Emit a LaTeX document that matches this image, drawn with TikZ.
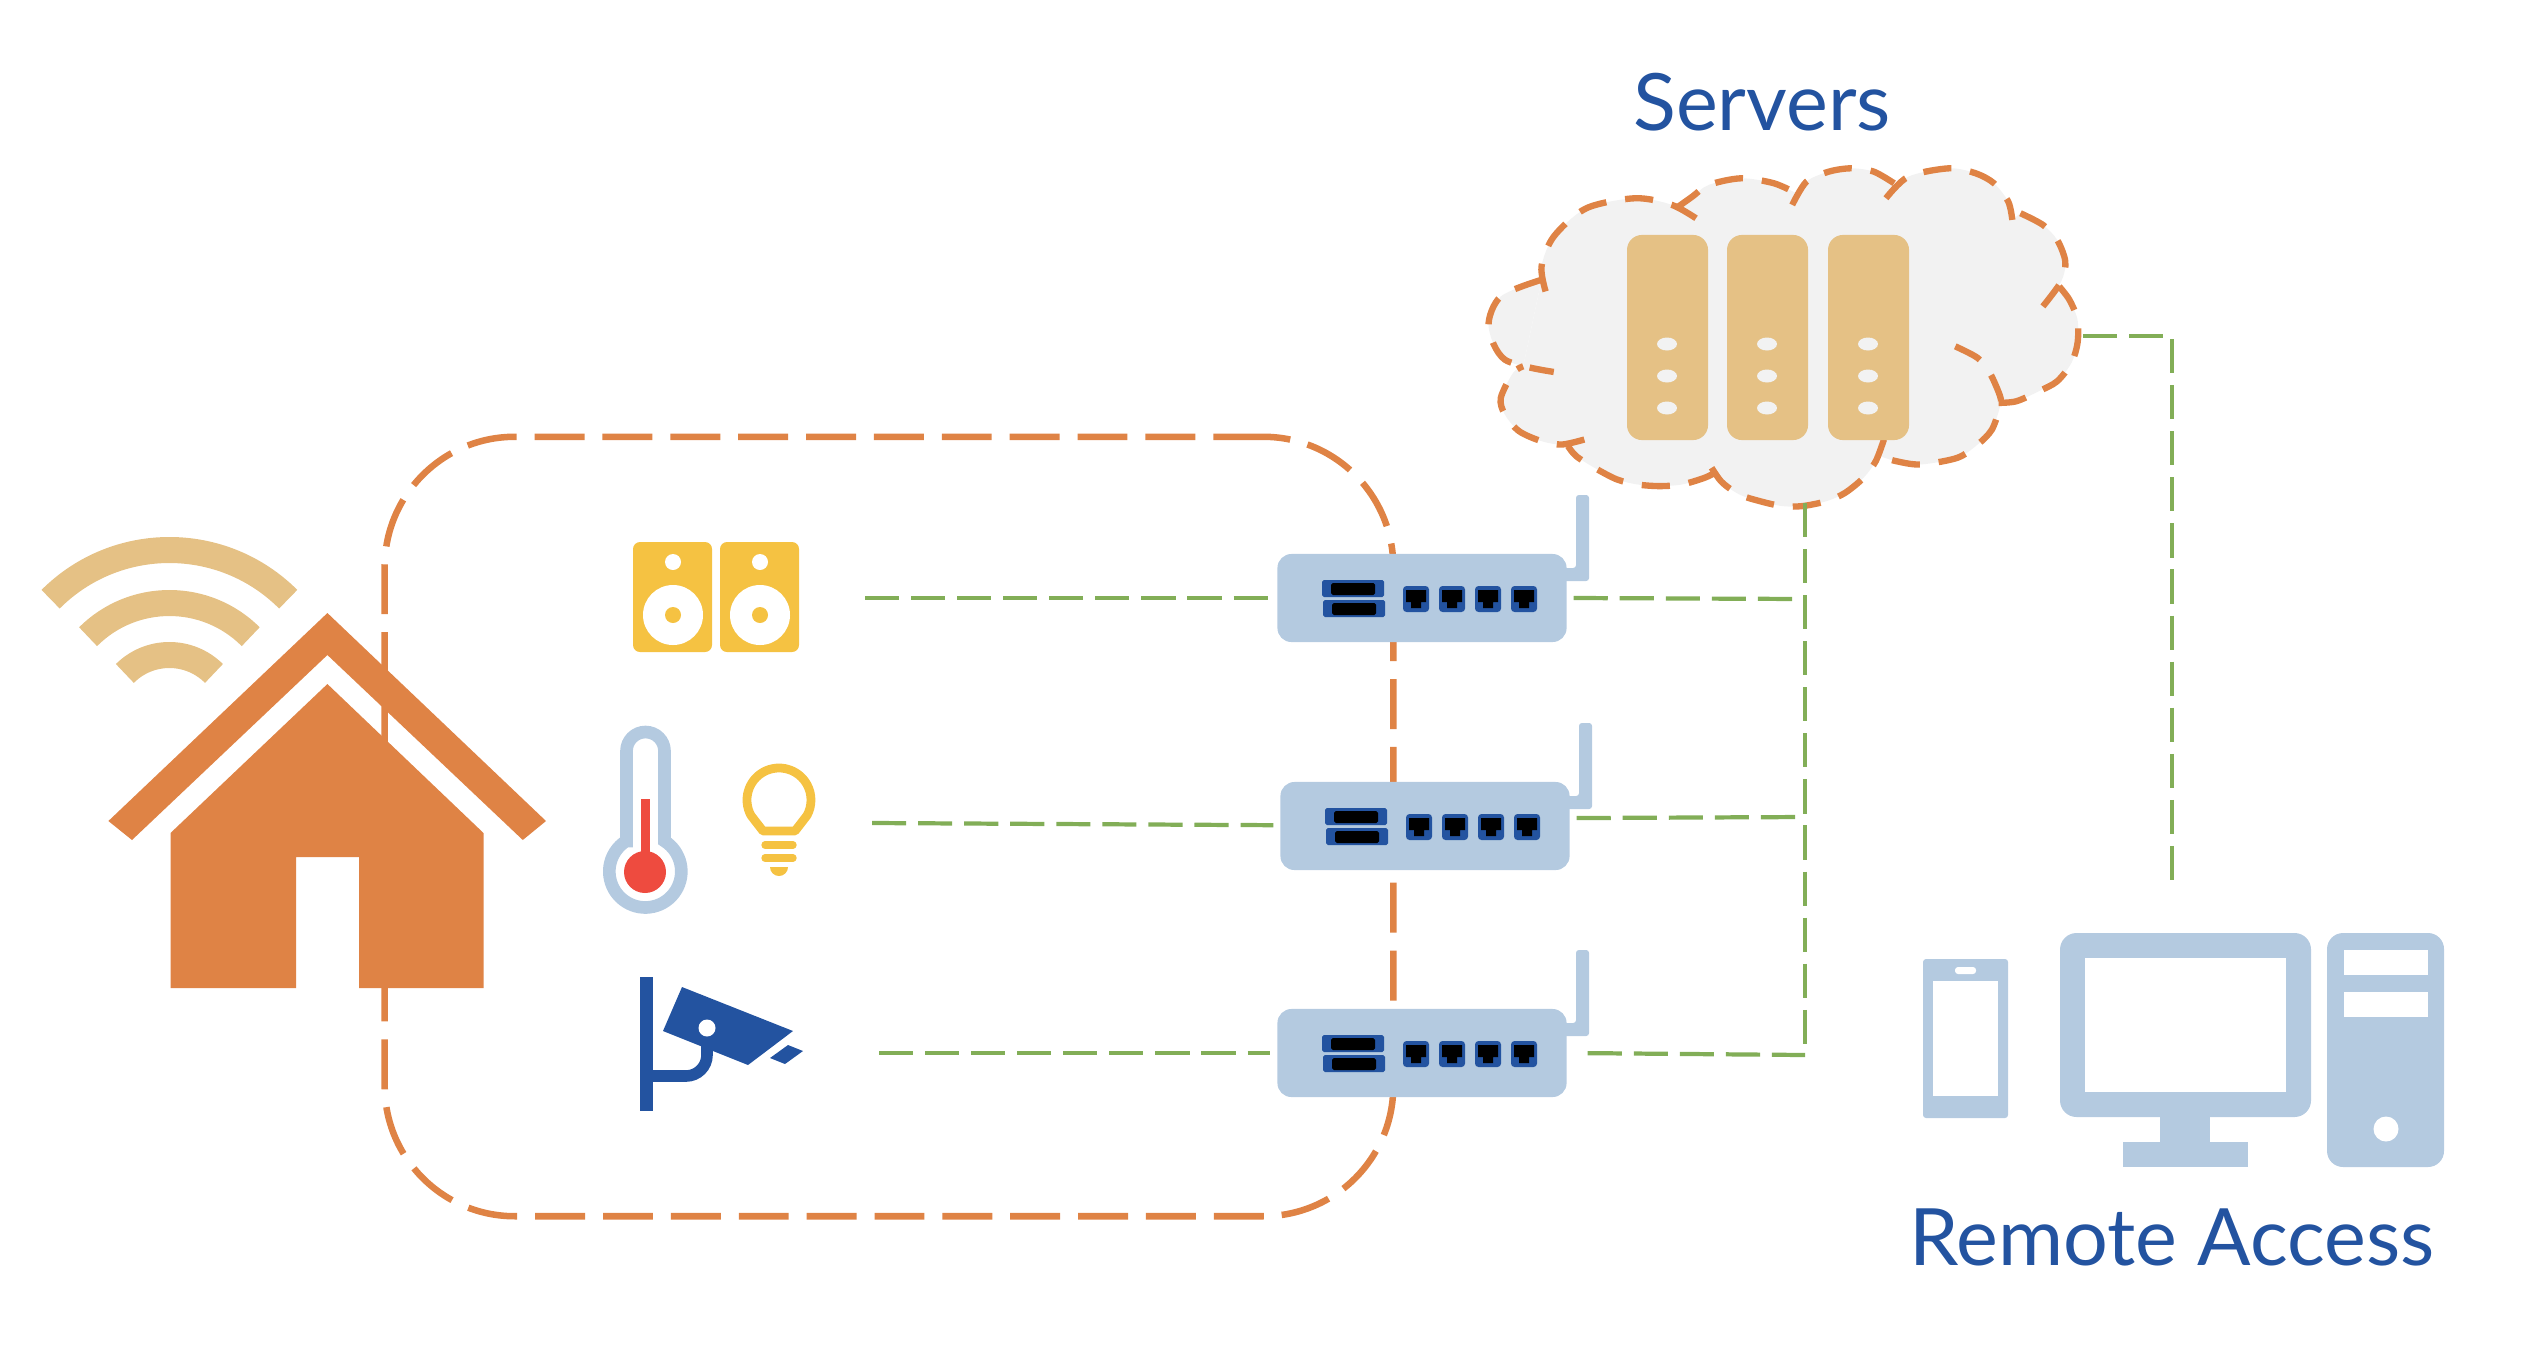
\documentclass[tikz,border=0pt]{standalone}
\usepackage{fontspec}
\setmainfont{Lato}
\definecolor{homeorange}{HTML}{DF8345}
\definecolor{beige}{HTML}{E5C185}
\definecolor{lightblue}{HTML}{B4CAE0}
\definecolor{darkblue}{HTML}{2353A0}
\definecolor{linkgreen}{HTML}{82AE57}
\definecolor{speakeryellow}{HTML}{F5C242}
\definecolor{thermored}{HTML}{EE4B3F}
\definecolor{cloudgrey}{HTML}{F2F2F2}
\tikzset{
  link/.style={draw=linkgreen, line width=1.2pt, dash pattern=on 9.7pt off 3.4pt},
  frame/.style={draw=homeorange, line width=1.85pt, dash pattern=on 14.2pt off 5.1pt, rounded corners=1.3cm, minimum width=10.08cm, minimum height=7.79cm},
  lobe/.style={draw=homeorange, line width=1.8pt, dash pattern=on 8pt off 5.4pt},
  routerbox/.style={fill=lightblue, rounded corners=0.14cm, minimum width=2.89cm, minimum height=0.88cm, outer sep=2pt},
  serverbox/.style={fill=beige, rounded corners=0.15cm, minimum width=0.81cm, minimum height=2.05cm},
  labeltext/.style={text=darkblue, font=\fontsize{22.5}{30}\selectfont},
  wave/.style={draw=beige, line width=7.4pt}
}
\newcommand{\slotjack}[2]{
  \fill [darkblue, rounded corners=0.5pt] (#1-9,#2-3) rectangle (#1+53,#2+14);
  \fill [black, rounded corners=0.5pt] (#1,#2) rectangle (#1+44,#2+12);
}
\newcommand{\portjack}[1]{
  \fill [darkblue, rounded corners=1pt] (#1,-12) rectangle (#1+26,14);
  \fill [black] (#1+3,-8) -- (#1+23,-8) -- (#1+23,4) -- (#1+18,4) -- (#1+18,10) -- (#1+8,10) -- (#1+8,4) -- (#1+3,4) -- cycle;
}
\newcommand{\routerunit}[3]{
  \begin{scope}[shift={(#1,#2)}]
  \fill [lightblue, rounded corners=0.8pt] (140,-30) -- (154,-30) -- (154,-103) -- (167,-103) -- (167,-17) -- (140,-17) -- cycle;
  \draw (0,0) node[routerbox] (#3) {};
  \slotjack{-91}{-15}
  \slotjack{-90}{5}
  \portjack{-19}
  \portjack{17}
  \portjack{53}
  \portjack{89}
  \end{scope}
}
\newcommand{\serverdots}[1]{
  \fill [cloudgrey] (#1,344) ellipse [x radius=10, y radius=6.5];
  \fill [cloudgrey] (#1,376) ellipse [x radius=10, y radius=6.5];
  \fill [cloudgrey] (#1,408) ellipse [x radius=10, y radius=6.5];
}
\newcommand{\speakerunit}[1]{
  \fill [speakeryellow, rounded corners=0.07cm] (#1-40,542) rectangle (#1+39,652);
  \fill [white] (#1,562) circle [radius=8];
  \fill [white] (#1,615) circle [radius=30];
  \fill [speakeryellow] (#1,615) circle [radius=8];
}
\def\lobeA{(200,420) (100,470) (70,560) (110,660) (230,697)}
\def\lobeB{(210,455) (200,380) (230,290) (310,205) (430,175) (520,195) (585,240)}
\def\lobeC{(530,205) (570,170) (610,135) (690,115) (770,130) (825,160)}
\def\lobeD{(815,195) (850,125) (905,95) (960,85) (1015,95) (1065,130)}
\def\lobeE{(1045,175) (1100,110) (1200,85) (1265,100) (1310,130) (1345,185) (1355,240)}
\def\lobeF{(1375,220) (1430,255) (1465,300) (1485,365) (1475,425) (1430,500)}
\def\lobeG{(1470,440) (1495,480) (1515,540) (1515,610) (1500,670) (1465,725) (1420,755) (1365,785) (1320,790)}
\def\lobeH{(1215,620) (1270,655) (1300,700) (1325,770) (1325,800) (1305,870) (1270,915) (1220,955) (1130,975) (1070,965) (1030,950)}
\def\lobeI{(1040,900) (1020,965) (990,1015) (945,1060) (900,1085) (840,1100) (790,1100) (735,1085) (685,1065) (640,1025) (605,960)}
\def\lobeJ{(625,1000) (600,1015) (545,1035) (490,1040) (435,1035) (385,1020) (330,985) (285,950) (265,920)}
\def\lobeK{(305,900) (250,915) (200,905) (145,875) (110,825) (100,775) (130,700) (155,680)}
\begin{document}
\begin{tikzpicture}[x=0.01cm, y=-0.01cm]
\useasboundingbox (0,0) rectangle (2546,1360);
\draw (889,826.5) node[frame] (HM) {};
% house
\draw [wave] (169.4,718) ++(-135:168) arc [start angle=-135, end angle=-45, radius=168];
\draw [wave] (169.4,718) ++(-135:115) arc [start angle=-135, end angle=-45, radius=115];
\draw [wave] (169.4,718) ++(-135:63) arc [start angle=-135, end angle=-45, radius=63];
\fill [homeorange] (327.4,613) -- (546,821) -- (522.8,840) -- (327.4,655) -- (132,840) -- (108.4,821) -- cycle;
\fill [homeorange] (327.4,684) -- (483.5,833) -- (483.5,988) -- (359,988) -- (359,857) -- (296,857) -- (296,988) -- (170.5,988) -- (170.5,833) -- cycle;
% speakers
\speakerunit{673}
\speakerunit{760}
% thermometer
\draw [lightblue, line width=3.6pt] (626.5,841) -- (626.5,751) arc [start angle=180, end angle=360, radius=19] -- (664.5,841) arc [start angle=-57.8, end angle=237.8, radius=36] -- cycle;
\fill [thermored] (641,799) rectangle (650,860);
\fill [thermored] (645,872) circle [radius=21];
% bulb
\draw [speakeryellow, line width=2.5pt, line join=round] (763,831) -- (751,815.5) arc [start angle=151, end angle=389, radius=32] -- (795,831) -- cycle;
\draw [speakeryellow, line width=2.1pt, line cap=round] (765,845) -- (793,845);
\draw [speakeryellow, line width=2.1pt, line cap=round] (765,858) -- (793,858);
\fill [speakeryellow] (770,867) -- (788,867) arc [start angle=0, end angle=180, radius=9] -- cycle;
% camera
\fill [darkblue] (640,977) rectangle (653,1111);
\draw [darkblue, line width=3.3pt] (653,1076) -- (686,1076) arc [start angle=90, end angle=0, radius=21] -- (707,1045);
\fill [darkblue] (682,987) -- (793,1031) -- (748,1065) -- (663,1031) -- cycle;
\fill [white] (707,1028) circle [radius=8.5];
\fill [darkblue] (788,1045) -- (803,1051) -- (785,1064) -- (770,1058) -- cycle;
% cloud
\begin{scope}[shift={(1460,140)}, x=0.00408cm, y=-0.00333cm]
\fill [cloudgrey] (200,420) -- (530,205) -- (1065,130) -- (1355,240) -- (1430,500) -- (1320,790) -- (1040,900) -- (605,960) -- (305,900) -- (155,680) -- cycle;
\fill [cloudgrey] plot [smooth] coordinates {\lobeA} -- plot [smooth] coordinates {\lobeB} -- plot [smooth] coordinates {\lobeC} -- plot [smooth] coordinates {\lobeD} -- plot [smooth] coordinates {\lobeE} -- plot [smooth] coordinates {\lobeF} -- plot [smooth] coordinates {\lobeG} -- plot [smooth] coordinates {\lobeH} -- plot [smooth] coordinates {\lobeI} -- plot [smooth] coordinates {\lobeJ} -- plot [smooth] coordinates {\lobeK} -- cycle;
\draw [lobe] plot [smooth] coordinates {\lobeA};
\draw [lobe] plot [smooth] coordinates {\lobeB};
\draw [lobe] plot [smooth] coordinates {\lobeC};
\draw [lobe] plot [smooth] coordinates {\lobeD};
\draw [lobe] plot [smooth] coordinates {\lobeE};
\draw [lobe] plot [smooth] coordinates {\lobeF};
\draw [lobe] plot [smooth] coordinates {\lobeG};
\draw [lobe] plot [smooth] coordinates {\lobeH};
\draw [lobe] plot [smooth] coordinates {\lobeI};
\draw [lobe] plot [smooth] coordinates {\lobeJ};
\draw [lobe] plot [smooth] coordinates {\lobeK};
\end{scope}
\draw (1667.5,337.5) node[serverbox] (S1) {};
\draw (1767.5,337.5) node[serverbox] (S2) {};
\draw (1868.5,337.5) node[serverbox] (S3) {};
\serverdots{1667}
\serverdots{1767}
\serverdots{1868}
% remote devices
\fill [lightblue, rounded corners=0.03cm] (1923,959) rectangle (2008,1118);
\fill [white] (1933,981) rectangle (1998,1096);
\fill [white, rounded corners=0.03cm] (1955,967) rectangle (1976,974);
\fill [lightblue, rounded corners=0.165cm] (2060,933) rectangle (2311,1117);
\fill [white] (2085,958) rectangle (2286,1092);
\fill [lightblue] (2160,1110) rectangle (2210,1142);
\fill [lightblue] (2122.5,1142) rectangle (2248,1167);
\fill [lightblue, rounded corners=0.16cm] (2327,933) rectangle (2444,1167);
\fill [white] (2344,950) rectangle (2427.5,975);
\fill [white] (2344,992) rectangle (2427.5,1017);
\fill [white] (2386,1129) circle [radius=12.5];
% routers
\routerunit{1422}{598}{R1}
\routerunit{1425}{826}{R2}
\routerunit{1422}{1053}{R3}
\coordinate (SP) at (865,598);
\coordinate (TH) at (872,823);
\coordinate (CAM) at (879,1053);
\coordinate (T1) at (1805,599);
\coordinate (T2) at (1805,817);
\coordinate (T3) at (1805,1055);
\coordinate (CB) at (1805,503);
\coordinate (CR) at (2083,336);
\coordinate (PC) at (2172,882);
\draw [link] (SP) to (R1);
\draw [link] (TH) to (R2);
\draw [link] (CAM) to (R3);
\draw [link] (R1.-0.4) to (T1);
\draw [link] (R2.3.5) to (T2);
\draw [link, shorten <=4pt] (R3.-0.8) to (T3);
\draw [link] (CB) to (T3);
\draw [link] (CR) -| (PC);
\draw (1762,102) node[labeltext] (SV) {Servers};
\draw (2172,1237) node[labeltext] (RA) {Remote Access};
\end{tikzpicture}
\end{document}
